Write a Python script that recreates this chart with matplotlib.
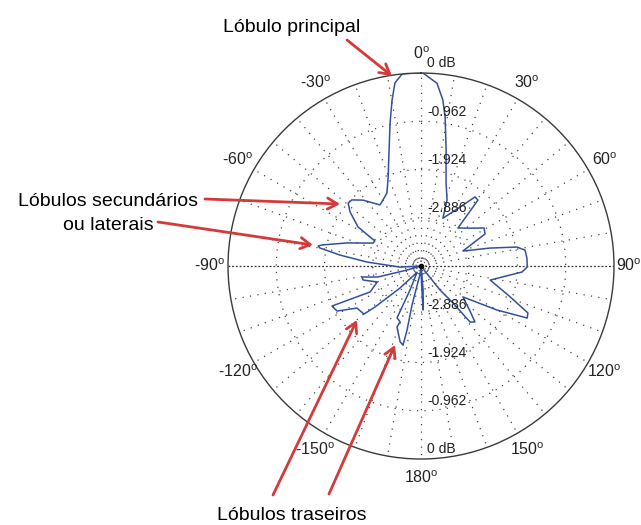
import numpy as np
import matplotlib.pyplot as plt

plt.rcParams['font.family'] = ['Liberation Sans', 'DejaVu Sans']
plt.rcParams['mathtext.default'] = 'regular'

# radiation pattern: azimuth in degrees (0 at top, clockwise) and gain in dB
theta_deg = [0, 0.6, 5.0, 7.5, 9.2, 12.2, 16.8, 21.5, 24.6,
             33.5, 38.0, 40.8, 44.2,
             52.8, 58.9, 63.4, 70.3,
             75.4, 78.8, 81.3, 85.7, 90.5, 93.4, 96.7, 101.5,
             108.8, 113.7, 116.1, 120.1, 126.4,
             131.9, 136.0, 138.8, 139.1, 141.6, 142.0,
             160.0, 175.0, 177.4, 178.5, 183.0,
             186.0, 193.0, 192.3, 192.8, 195.4, 201.5, 200.6, 204.8, 204.6, 212.0,
             223.7, 228.3, 229.9, 236.7, 241.8, 245.8, 243.0, 250.0,
             256.4, 259.4, 255.7, 254.0, 262.0,
             267.0, 274.2, 277.7, 280.1, 281.0, 282.0, 287.3, 295.6, 298.5,
             301.8, 307.3, 310.8, 313.7, 318.7, 326.1, 328.6,
             335.0, 339.7, 344.6, 347.8, 350.1, 351.9, 354.4, 356.7, 360.0]
gain_db = [0.0, 0.0, -0.19, -0.51, -0.84, -1.48, -2.12, -2.43, -2.80,
           -2.44, -2.10, -2.11, -2.79,
           -2.60, -2.38, -2.42, -2.96,
           -2.43, -1.90, -1.75, -1.73, -1.73, -1.83, -2.14, -2.44,
           -1.99, -1.52, -1.49, -2.10, -2.81,
           -2.56, -2.30, -2.36, -2.87, -3.24, -3.62,
           -3.85, -3.37, -2.97, -3.60, -3.85,
           -3.70, -3.05, -2.54, -2.23, -2.28, -2.54, -2.66, -2.71, -3.32, -3.70,
           -3.24, -2.62, -2.36, -2.32, -1.95, -1.90, -2.71, -2.92,
           -2.66, -2.65, -2.96, -3.56, -3.85,
           -3.43, -2.77, -2.22, -1.80, -1.76, -1.83, -2.30, -2.79, -2.80,
           -2.37, -2.07, -1.93, -1.94, -2.10, -2.38, -2.35,
           -2.24, -1.96, -1.45, -0.93, -0.49, -0.16, 0.0, 0.0, 0.0]

r_min = -3.848
ring_levels = [0, -0.962, -1.924, -2.886]
ring_labels = ['0 dB', '-0.962', '-1.924', '-2.886']
angle_ticks = list(range(0, 360, 30))
angle_labels = ['0', '30', '60', '90', '120', '150', '180',
                '-150', '-120', '-90', '-60', '-30']

red = '#d43a3a'
W, H = 641, 525

def fpos(x, y):
    # pixel position (from top-left) -> figure fraction
    return x / W, 1 - y / H

fig = plt.figure(figsize=(6.41, 5.25), dpi=100)
ax = fig.add_axes([0.3557, 0.1257, 0.6022, 0.7352], projection='polar')
ax.set_theta_zero_location('N')
ax.set_theta_direction(-1)
ax.set_ylim(r_min, 0)
ax.grid(False)
ax.set_xticks([])
ax.set_yticks([])
ax.spines['polar'].set_color('#3a3a3a')
ax.spines['polar'].set_linewidth(1.0)

dots = (0, (1, 5))
full = np.linspace(0, 2 * np.pi, 721)
for lvl in ring_levels[1:]:
    ax.plot(full, np.full_like(full, lvl), color='#444444', lw=0.9, ls=dots)
ax.plot(full, np.full_like(full, -3.75), color='#444444', lw=0.8, ls=(0, (1, 2)))

# spokes every 10 degrees, the 90/-90 axis drawn denser
for a in range(0, 360, 10):
    t = np.deg2rad(a)
    if a in (90, 270):
        ax.plot([t, t], [r_min, 0], color='#333333', lw=0.9, ls=(0, (1.5, 1.5)))
    else:
        ax.plot([t, t], [r_min, 0], color='#444444', lw=0.9, ls=dots)

ax.plot(np.deg2rad(theta_deg), np.clip(gain_db, r_min, 0), color='#33509c', lw=1.1)
ax.plot(0, r_min, 'o', color='k', ms=3)

r_lab = r_min + 1.098 * (0 - r_min)
r_lab_edge = r_min + 1.075 * (0 - r_min)   # keep the 90 label inside the figure
for a, lab in zip(angle_ticks, angle_labels):
    r = r_lab_edge if a == 90 else r_lab
    ax.text(np.deg2rad(a), r, lab + '$^o$', ha='center', va='center',
            fontsize=11.5, color='#222222')

for t in (0, np.pi):
    for lvl, lab in zip(ring_levels, ring_labels):
        ax.annotate(lab, xy=(t, lvl), xytext=(4.5, 7), textcoords='offset points',
                    ha='left', va='center', fontsize=10, color='#222222')

# callouts
fig.text(*fpos(292, 32), 'Lóbulo principal', ha='center', va='baseline', fontsize=14)
fig.text(*fpos(108, 206), 'Lóbulos secundários', ha='center', va='baseline', fontsize=14)
fig.text(*fpos(108, 230), 'ou laterais', ha='center', va='baseline', fontsize=14)
fig.text(*fpos(292, 520), 'Lóbulos traseiros', ha='center', va='baseline', fontsize=14)

arrows = [((347, 40), (392, 76)),
          ((205, 199), (340, 204)),
          ((158, 222), (313, 245)),
          ((273, 495), (357, 320)),
          ((329, 494), (395, 345))]
for tail, head in arrows:
    ax.annotate('', xy=fpos(*head), xytext=fpos(*tail),
                xycoords='figure fraction', textcoords='figure fraction',
                arrowprops=dict(arrowstyle='->,head_length=0.7,head_width=0.4',
                                color=red, lw=2.0, shrinkA=0, shrinkB=0))

fig.savefig('out.png', dpi=100)
